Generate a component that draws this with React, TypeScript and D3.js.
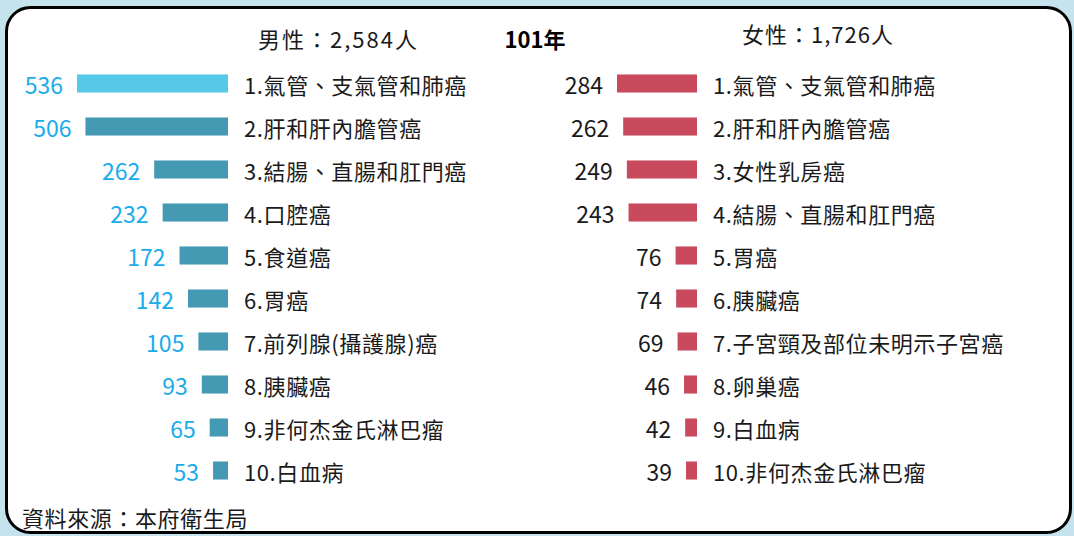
import React from 'react';
import * as d3 from 'd3';

const maleLabels = ['1.氣管、支氣管和肺癌', '2.肝和肝內膽管癌', '3.結腸、直腸和肛門癌', '4.口腔癌', '5.食道癌', '6.胃癌', '7.前列腺(攝護腺)癌', '8.胰臟癌', '9.非何杰金氏淋巴瘤', '10.白血病'];
const maleValues = [536, 506, 262, 232, 172, 142, 105, 93, 65, 53];
const femaleLabels = ['1.氣管、支氣管和肺癌', '2.肝和肝內膽管癌', '3.女性乳房癌', '4.結腸、直腸和肛門癌', '5.胃癌', '6.胰臟癌', '7.子宮頸及部位未明示子宮癌', '8.卵巢癌', '9.白血病', '10.非何杰金氏淋巴瘤'];
const femaleValues = [284, 262, 249, 243, 76, 74, 69, 46, 42, 39];
const maleTitle = '男性：2,584人';
const femaleTitle = '女性：1,726人';
const yearTitle = '101年';
const sourceNote = '資料來源：本府衛生局';

const W = 1074;
const H = 536;
const FONT = '"Noto Sans CJK TC", "Noto Sans", sans-serif';

const App = () => {
  const rows = d3.range(10);
  // row bands
  const y = d3.scaleBand<number>().domain(rows).range([62, 492]).paddingInner(0.58).paddingOuter(0.29);
  const x = d3.scaleLinear().domain([0, 536]).range([0, 151]);

  const maleRight = 228;
  const femaleRight = 697;

  const panel = (values, labels, right, barColor, firstColor, numColor) =>
    rows.map(i => {
      const w = x(values[i]);
      const cy = y(i) + y.bandwidth() / 2;
      return (
        <g key={i}>
          <rect x={right - w} y={y(i)} width={w} height={y.bandwidth()} fill={i === 0 ? firstColor : barColor} />
          <text x={right - w - 14} y={cy} textAnchor="end" dominantBaseline="central" fill={numColor} fontSize={23}>
            {values[i]}
          </text>
          <text x={right + 16} y={cy} dominantBaseline="central" fill="#1a1a1a" fontSize={22} letterSpacing={0.6}>
            {labels[i]}
          </text>
        </g>
      );
    });

  return (
    <svg width={W} height={H} style={{ position: 'absolute', left: 0, top: 0 }} fontFamily={FONT}>
      <rect x={0} y={0} width={W} height={H} fill="#c4e3ec" />
      <rect x={6.5} y={7.5} width={1064} height={525} rx={24} ry={24} fill="#fff" stroke="#000" strokeWidth={3} />
      <text x={258} y={38} dominantBaseline="central" fontSize={22} letterSpacing={2} fill="#1a1a1a">{maleTitle}</text>
      <text x={535} y={38} textAnchor="middle" dominantBaseline="central" fontSize={22} fontWeight="bold" fill="#000">{yearTitle}</text>
      <text x={742} y={33} dominantBaseline="central" fontSize={22} letterSpacing={1} fill="#1a1a1a">{femaleTitle}</text>
      {panel(maleValues, maleLabels, maleRight, '#4499b3', '#56c8e8', '#1aabeb')}
      {panel(femaleValues, femaleLabels, femaleRight, '#c94a5c', '#c94a5c', '#1a1a1a')}
      <text x={22} y={517} dominantBaseline="central" fontSize={22} letterSpacing={0.6} fill="#1a1a1a">{sourceNote}</text>
    </svg>
  );
};

export default App;
